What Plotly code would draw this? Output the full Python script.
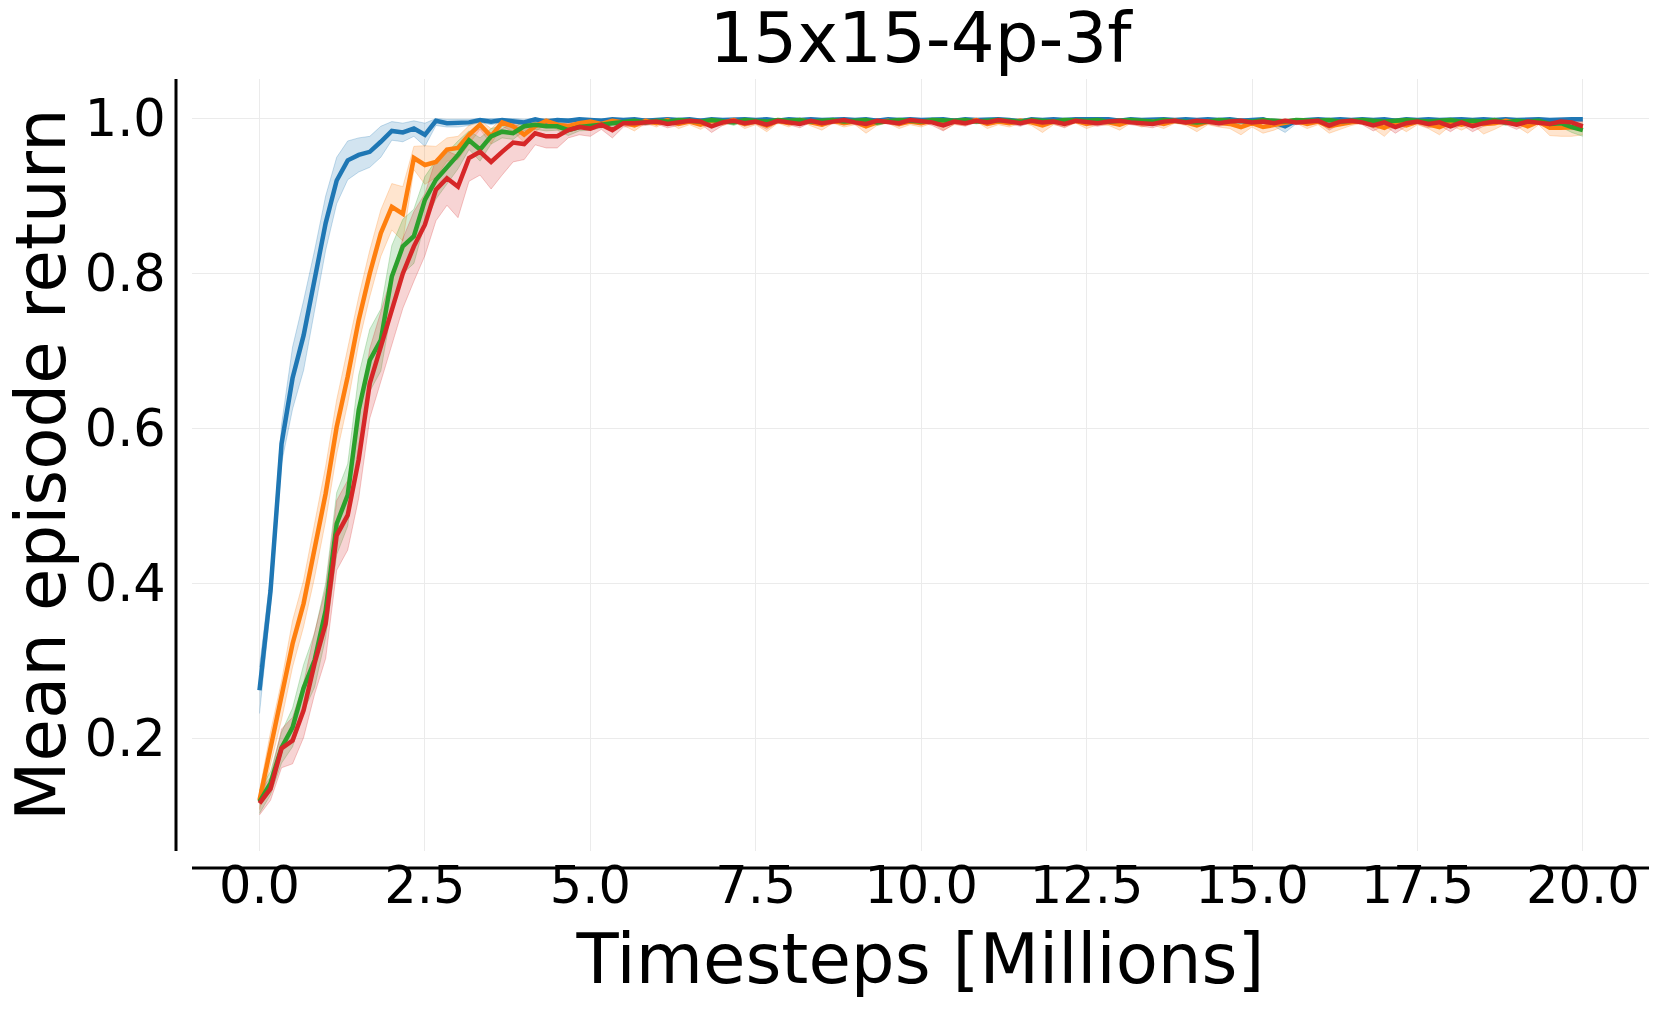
import plotly.graph_objects as go

# evaluation every 1/6 M timesteps, 0 .. 20 M
timesteps = [i / 6 for i in range(121)]

blue_mean = [
    0.262, 0.390, 0.580, 0.665, 0.720, 0.790, 0.865, 0.920, 0.946, 0.953,
    0.957, 0.970, 0.984, 0.982, 0.987, 0.979, 0.997, 0.994, 0.994, 0.995,
    0.998, 0.996, 0.998, 0.997, 0.995, 0.999, 0.996, 0.998, 0.997, 0.999,
    0.998, 0.997, 0.999, 0.998, 0.999, 0.997, 0.998, 0.999, 0.998, 0.999,
    0.997, 0.999, 0.998, 0.999, 0.999, 0.998, 0.999, 0.997, 0.999, 0.998,
    0.999, 0.998, 0.999, 0.999, 0.998, 0.999, 0.997, 0.999, 0.998, 0.999,
    0.998, 0.999, 0.999, 0.997, 0.999, 0.998, 0.999, 0.999, 0.998, 0.996,
    0.999, 0.998, 0.999, 0.998, 0.999, 0.999, 0.998, 0.999, 0.997, 0.999,
    0.998, 0.999, 0.999, 0.998, 0.999, 0.998, 0.999, 0.998, 0.999, 0.997,
    0.998, 0.999, 0.995, 0.990, 0.997, 0.998, 0.999, 0.998, 0.999, 0.998,
    0.999, 0.998, 0.999, 0.997, 0.999, 0.998, 0.999, 0.998, 0.999, 0.999,
    0.998, 0.999, 0.998, 0.999, 0.998, 0.999, 0.999, 0.998, 0.999, 0.999,
    0.999,
]
blue_hw = [
    0.030, 0.020, 0.025, 0.040, 0.045, 0.040, 0.035, 0.030, 0.025, 0.022,
    0.020, 0.020, 0.012, 0.012, 0.010, 0.015, 0.006, 0.005, 0.005, 0.004,
    0.003, 0.004, 0.003, 0.003, 0.004, 0.002, 0.004, 0.003, 0.003, 0.002,
    0.003, 0.003, 0.002, 0.003, 0.002, 0.003, 0.003, 0.002, 0.003, 0.002,
    0.003, 0.002, 0.003, 0.002, 0.002, 0.003, 0.002, 0.004, 0.002, 0.003,
    0.002, 0.003, 0.002, 0.002, 0.003, 0.002, 0.004, 0.002, 0.003, 0.002,
    0.003, 0.002, 0.002, 0.004, 0.002, 0.003, 0.002, 0.002, 0.003, 0.005,
    0.002, 0.003, 0.002, 0.003, 0.002, 0.002, 0.003, 0.002, 0.004, 0.002,
    0.003, 0.002, 0.002, 0.003, 0.002, 0.003, 0.002, 0.003, 0.002, 0.004,
    0.003, 0.002, 0.005, 0.008, 0.004, 0.003, 0.002, 0.003, 0.002, 0.003,
    0.002, 0.003, 0.002, 0.004, 0.002, 0.003, 0.002, 0.003, 0.002, 0.002,
    0.003, 0.002, 0.003, 0.002, 0.003, 0.002, 0.002, 0.003, 0.002, 0.002,
    0.002,
]

orange_mean = [
    0.120, 0.188, 0.249, 0.322, 0.374, 0.443, 0.516, 0.602, 0.667, 0.740,
    0.800, 0.852, 0.886, 0.877, 0.949, 0.940, 0.944, 0.960, 0.962, 0.979,
    0.992, 0.977, 0.995, 0.990, 0.979, 0.990, 0.997, 0.992, 0.990, 0.994,
    0.996, 0.993, 0.997, 0.995, 0.991, 0.997, 0.994, 0.998, 0.993, 0.996,
    0.992, 0.997, 0.995, 0.998, 0.993, 0.996, 0.991, 0.997, 0.994, 0.998,
    0.995, 0.992, 0.997, 0.994, 0.996, 0.990, 0.995, 0.997, 0.993, 0.996,
    0.994, 0.997, 0.992, 0.996, 0.995, 0.998, 0.993, 0.996, 0.994, 0.997,
    0.995, 0.991, 0.996, 0.994, 0.997, 0.993, 0.996, 0.995, 0.992, 0.997,
    0.994, 0.996, 0.993, 0.997, 0.995, 0.991, 0.996, 0.994, 0.993, 0.989,
    0.994, 0.989, 0.992, 0.995, 0.997, 0.993, 0.996, 0.990, 0.993, 0.995,
    0.997, 0.993, 0.988, 0.995, 0.991, 0.996, 0.993, 0.989, 0.995, 0.992,
    0.996, 0.993, 0.994, 0.997, 0.995, 0.990, 0.996, 0.988, 0.988, 0.988,
    0.989,
]
orange_hw = [
    0.012, 0.020, 0.025, 0.030, 0.030, 0.035, 0.035, 0.035, 0.035, 0.030,
    0.030, 0.030, 0.030, 0.035, 0.015, 0.025, 0.020, 0.015, 0.015, 0.012,
    0.006, 0.010, 0.005, 0.007, 0.010, 0.007, 0.004, 0.006, 0.006, 0.005,
    0.004, 0.005, 0.003, 0.004, 0.007, 0.003, 0.005, 0.002, 0.006, 0.004,
    0.006, 0.003, 0.004, 0.002, 0.006, 0.004, 0.008, 0.003, 0.005, 0.002,
    0.004, 0.007, 0.003, 0.005, 0.004, 0.009, 0.004, 0.003, 0.006, 0.004,
    0.005, 0.003, 0.007, 0.004, 0.004, 0.002, 0.006, 0.004, 0.005, 0.003,
    0.004, 0.009, 0.004, 0.005, 0.003, 0.006, 0.004, 0.004, 0.007, 0.003,
    0.005, 0.004, 0.006, 0.003, 0.004, 0.008, 0.004, 0.005, 0.006, 0.010,
    0.005, 0.008, 0.007, 0.004, 0.003, 0.006, 0.004, 0.009, 0.007, 0.004,
    0.003, 0.006, 0.011, 0.004, 0.008, 0.004, 0.006, 0.010, 0.004, 0.007,
    0.004, 0.013, 0.008, 0.004, 0.005, 0.009, 0.004, 0.010, 0.011, 0.011,
    0.010,
]

green_mean = [
    0.118, 0.142, 0.188, 0.214, 0.265, 0.301, 0.365, 0.477, 0.514, 0.624,
    0.688, 0.714, 0.796, 0.835, 0.848, 0.895, 0.921, 0.936, 0.953, 0.972,
    0.960, 0.977, 0.983, 0.981, 0.990, 0.992, 0.990, 0.990, 0.985, 0.989,
    0.990, 0.992, 0.994, 0.996, 0.997, 0.995, 0.997, 0.996, 0.998, 0.997,
    0.996, 0.998, 0.997, 0.995, 0.998, 0.997, 0.996, 0.998, 0.997, 0.998,
    0.996, 0.997, 0.998, 0.996, 0.997, 0.998, 0.995, 0.997, 0.998, 0.997,
    0.996, 0.998, 0.997, 0.997, 0.998, 0.996, 0.997, 0.998, 0.997, 0.996,
    0.998, 0.997, 0.996, 0.998, 0.997, 0.997, 0.998, 0.996, 0.997, 0.998,
    0.997, 0.996, 0.998, 0.997, 0.997, 0.995, 0.996, 0.998, 0.997, 0.997,
    0.996, 0.998, 0.997, 0.996, 0.998, 0.997, 0.997, 0.998, 0.996, 0.997,
    0.998, 0.997, 0.996, 0.997, 0.998, 0.997, 0.996, 0.997, 0.998, 0.996,
    0.997, 0.996, 0.998, 0.995, 0.997, 0.996, 0.997, 0.993, 0.994, 0.989,
    0.985,
]
green_hw = [
    0.015, 0.015, 0.020, 0.025, 0.030, 0.035, 0.035, 0.040, 0.040, 0.045,
    0.040, 0.040, 0.040, 0.035, 0.035, 0.030, 0.025, 0.020, 0.018, 0.012,
    0.015, 0.010, 0.008, 0.008, 0.006, 0.006, 0.006, 0.005, 0.007, 0.005,
    0.005, 0.004, 0.004, 0.003, 0.002, 0.003, 0.002, 0.003, 0.002, 0.002,
    0.003, 0.002, 0.002, 0.004, 0.002, 0.002, 0.003, 0.002, 0.002, 0.002,
    0.003, 0.002, 0.002, 0.003, 0.002, 0.002, 0.004, 0.002, 0.002, 0.002,
    0.003, 0.002, 0.002, 0.002, 0.002, 0.003, 0.002, 0.002, 0.002, 0.003,
    0.002, 0.002, 0.003, 0.002, 0.002, 0.002, 0.002, 0.003, 0.002, 0.002,
    0.002, 0.003, 0.002, 0.002, 0.002, 0.004, 0.003, 0.002, 0.002, 0.002,
    0.003, 0.002, 0.002, 0.003, 0.002, 0.002, 0.002, 0.002, 0.003, 0.002,
    0.002, 0.002, 0.003, 0.002, 0.002, 0.002, 0.003, 0.002, 0.002, 0.003,
    0.002, 0.003, 0.002, 0.004, 0.002, 0.003, 0.002, 0.005, 0.005, 0.007,
    0.008,
]

red_mean = [
    0.116, 0.135, 0.187, 0.197, 0.236, 0.297, 0.348, 0.462, 0.488, 0.560,
    0.658, 0.705, 0.753, 0.800, 0.835, 0.863, 0.908, 0.923, 0.912, 0.949,
    0.957, 0.944, 0.957, 0.969, 0.967, 0.981, 0.977, 0.977, 0.985, 0.989,
    0.987, 0.992, 0.985, 0.994, 0.994, 0.995, 0.996, 0.993, 0.995, 0.997,
    0.996, 0.990, 0.995, 0.997, 0.994, 0.996, 0.992, 0.997, 0.995, 0.993,
    0.997, 0.994, 0.996, 0.998, 0.995, 0.993, 0.997, 0.996, 0.994, 0.998,
    0.997, 0.995, 0.991, 0.996, 0.994, 0.997, 0.995, 0.998, 0.996, 0.994,
    0.997, 0.995, 0.996, 0.993, 0.997, 0.995, 0.994, 0.996, 0.997, 0.995,
    0.994, 0.993, 0.996, 0.997, 0.995, 0.997, 0.996, 0.994, 0.996, 0.997,
    0.995, 0.996, 0.994, 0.997, 0.995, 0.996, 0.997, 0.991, 0.996, 0.997,
    0.995, 0.991, 0.995, 0.989, 0.994, 0.996, 0.993, 0.995, 0.990, 0.995,
    0.990, 0.994, 0.996, 0.995, 0.992, 0.996, 0.995, 0.993, 0.996, 0.995,
    0.990,
]
red_hw = [
    0.015, 0.015, 0.025, 0.030, 0.035, 0.040, 0.045, 0.045, 0.045, 0.050,
    0.045, 0.045, 0.045, 0.045, 0.045, 0.040, 0.040, 0.035, 0.040, 0.030,
    0.030, 0.035, 0.030, 0.025, 0.020, 0.015, 0.015, 0.015, 0.010, 0.010,
    0.010, 0.006, 0.010, 0.005, 0.004, 0.004, 0.003, 0.005, 0.004, 0.002,
    0.003, 0.008, 0.004, 0.002, 0.004, 0.003, 0.006, 0.002, 0.003, 0.005,
    0.002, 0.004, 0.003, 0.002, 0.003, 0.005, 0.002, 0.003, 0.004, 0.002,
    0.002, 0.004, 0.007, 0.003, 0.004, 0.002, 0.003, 0.002, 0.003, 0.004,
    0.002, 0.003, 0.003, 0.005, 0.002, 0.003, 0.004, 0.003, 0.002, 0.003,
    0.004, 0.005, 0.003, 0.002, 0.003, 0.002, 0.003, 0.004, 0.003, 0.002,
    0.003, 0.003, 0.004, 0.002, 0.003, 0.003, 0.002, 0.006, 0.003, 0.002,
    0.003, 0.007, 0.004, 0.008, 0.004, 0.003, 0.005, 0.004, 0.007, 0.003,
    0.007, 0.004, 0.003, 0.003, 0.006, 0.003, 0.003, 0.005, 0.003, 0.004,
    0.006,
]

series = [
    (blue_mean, blue_hw, (31, 119, 180)),
    (orange_mean, orange_hw, (255, 127, 14)),
    (green_mean, green_hw, (44, 160, 44)),
    (red_mean, red_hw, (214, 39, 40)),
]

FONT = "DejaVu Sans"
# page body has an 8px default margin, so the figure is 16px smaller
BODY = 8
W, H = 1661 - 2 * BODY, 1012 - 2 * BODY
L, R, T, B = 192 - BODY, 12 - BODY, 79 - BODY, 161 - BODY

fig = go.Figure()

# shaded bands first
for mean, hw, (r, g, b) in series:
    upper = [min(1.0, m + h) for m, h in zip(mean, hw)]
    lower = [m - h for m, h in zip(mean, hw)]
    fig.add_trace(go.Scatter(
        x=timesteps, y=upper, mode="lines",
        line=dict(color=f"rgba({r},{g},{b},0.25)", width=1),
        hoverinfo="skip", showlegend=False))
    fig.add_trace(go.Scatter(
        x=timesteps, y=lower, mode="lines", fill="tonexty",
        fillcolor=f"rgba({r},{g},{b},0.2)",
        line=dict(color=f"rgba({r},{g},{b},0.25)", width=1),
        hoverinfo="skip", showlegend=False))

for mean, hw, (r, g, b) in series:
    fig.add_trace(go.Scatter(
        x=timesteps, y=mean, mode="lines",
        line=dict(color=f"rgb({r},{g},{b})", width=4.5),
        showlegend=False))

plot_w = W - L - R
plot_h = H - T - B

# offset spines, like seaborn's despine(offset=...)
fig.add_shape(type="line", xref="paper", yref="paper",
              x0=-16 / plot_w, x1=-16 / plot_w, y0=0, y1=1,
              line=dict(color="black", width=3))
fig.add_shape(type="line", xref="paper", yref="paper",
              x0=0, x1=1, y0=-17 / plot_h, y1=-17 / plot_h,
              line=dict(color="black", width=3))

# y axis title as an annotation so it can sit closer to the edge
fig.add_annotation(
    text="Mean episode return", textangle=-90,
    xref="paper", yref="paper", x=(41 - 192) / plot_w, y=0.5,
    xanchor="center", yanchor="middle", showarrow=False,
    font=dict(size=69, family=FONT, color="black"))

fig.update_layout(
    width=W, height=H,
    margin=dict(l=L, r=R, t=T, b=B, autoexpand=False),
    paper_bgcolor="white", plot_bgcolor="white",
    font=dict(family=FONT, color="black"),
    title=dict(text="15x15-4p-3f", x=(920.5 - BODY) / W, xanchor="center",
               y=1 - (38 - BODY) / H, yanchor="middle", yref="container",
               font=dict(size=69, family=FONT, color="black")),
)
fig.update_xaxes(
    range=[-1.02, 21.0], tickmode="array",
    tickvals=[0, 2.5, 5, 7.5, 10, 12.5, 15, 17.5, 20],
    ticktext=["0.0", "2.5", "5.0", "7.5", "10.0", "12.5", "15.0", "17.5", "20.0"],
    tickfont=dict(size=51, family=FONT, color="black"),
    ticks="",
    showgrid=True, gridcolor="#ebebeb", gridwidth=1,
    zeroline=False, showline=False,
    title=dict(text="Timesteps [Millions]", standoff=20,
               font=dict(size=69, family=FONT, color="black")),
)
fig.update_yaxes(
    range=[0.0545, 1.051], tickmode="array",
    tickvals=[0.2, 0.4, 0.6, 0.8, 1.0],
    ticktext=["0.2", "0.4", "0.6", "0.8", "1.0"],
    tickfont=dict(size=51, family=FONT, color="black"),
    ticks="outside", ticklen=15, tickcolor="rgba(0,0,0,0)",
    showgrid=True, gridcolor="#ebebeb", gridwidth=1,
    zeroline=False, showline=False,
)

fig.write_html("out.html")
